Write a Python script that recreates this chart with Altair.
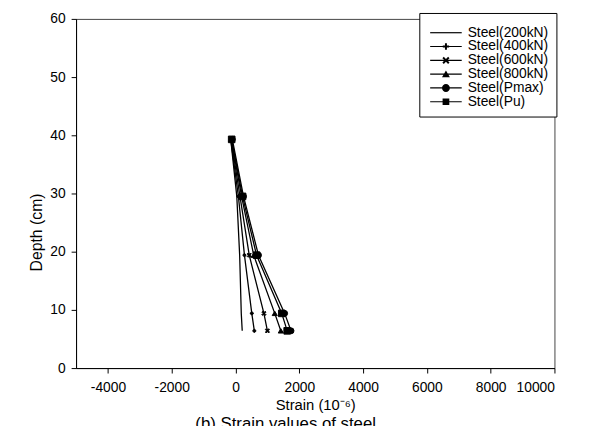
import altair as alt
import pandas as pd

# ---- data ----
series = ["Steel(200kN)", "Steel(400kN)", "Steel(600kN)", "Steel(800kN)", "Steel(Pmax)", "Steel(Pu)"]
depths = [39.3, 29.5, 19.4, 9.4, 6.4]
strain_200 = [-150, 40, 130, 180, 210]
strain_400 = [-150, 90, 280, 510, 590]
strain_600 = [-140, 140, 430, 890, 1000]
strain_800 = [-130, 190, 570, 1230, 1420]
strain_pmax = [-100, 250, 720, 1540, 1740]
strain_pu = [-120, 220, 660, 1450, 1620]

x_ticks = [-4000, -2000, 0, 2000, 4000, 6000, 8000, 10000]
y_ticks = [0, 10, 20, 30, 40, 50, 60]

all_strains = [strain_200, strain_400, strain_600, strain_800, strain_pmax, strain_pu]
rows = []
for s, vals in zip(series, all_strains):
    for d, v in zip(depths, vals):
        rows.append({"series": s, "depth": d, "strain": v})
df = pd.DataFrame(rows)

FONT = "Liberation Sans"

# marker shapes in the plot
xshape = "M-1,-0.6L-0.6,-1L0,-0.4L0.6,-1L1,-0.6L0.4,0L1,0.6L0.6,1L0,0.4L-0.6,1L-1,0.6L-0.4,0Z"
plot_shapes = ["circle", "cross", xshape, "triangle-up", "circle", "square"]
plot_sizes = [0, 45, 60, 60, 80, 60]

# legend symbols: thin bar (the line) + marker (units of 4px, bar from -1 to 7, marker at 3)
line = "M-1,-0.15L7,-0.15L7,0.15L-1,0.15Z"
leg_plus = line + "M2.75,-0.8L3.25,-0.8L3.25,-0.25L3.8,-0.25L3.8,0.25L3.25,0.25L3.25,0.8L2.75,0.8L2.75,0.25L2.2,0.25L2.2,-0.25L2.75,-0.25Z"
leg_x = line + "M2.1,-0.55L2.45,-0.9L3,-0.35L3.55,-0.9L3.9,-0.55L3.35,0L3.9,0.55L3.55,0.9L3,0.35L2.45,0.9L2.1,0.55L2.65,0Z"
leg_tri = line + "M3,-0.95L4,0.8L2,0.8Z"
leg_circ = line + "M4,0A1,1,0,1,1,2,0A1,1,0,1,1,4,0Z"
leg_sq = line + "M2.15,-0.85L3.85,-0.85L3.85,0.85L2.15,0.85Z"
legend_shapes = [line, leg_plus, leg_x, leg_tri, leg_circ, leg_sq]

xscale = alt.Scale(domain=[-5000, 10000], nice=False, zero=False)
yscale = alt.Scale(domain=[0, 60], nice=False)

axis_common = dict(grid=False, titleFontWeight="normal", tickSize=5,
                   domainColor="black", tickColor="black", labelColor="black",
                   titleColor="black", labelFont=FONT, titleFont=FONT)

xenc = alt.X("strain:Q", scale=xscale,
             axis=alt.Axis(values=x_ticks, title="Strain (10⁻⁶)", format="d",
                           labelExpr="replace(datum.label, '\u2212', '-')",
                           labelFontSize=14, titleFontSize=15, labelPadding=8,
                           titlePadding=3, **axis_common))
yenc = alt.Y("depth:Q", scale=yscale,
             axis=alt.Axis(values=y_ticks, title="Depth (cm)",
                           labelFontSize=14, titleFontSize=16, labelPadding=6,
                           titlePadding=5, titleY=216, **axis_common))

lines = alt.Chart(df).mark_line(color="black", strokeWidth=1.3).encode(
    x=xenc, y=yenc, detail="series:N", order=alt.Order("depth:Q"))

points = alt.Chart(df).mark_point(filled=True, fill="black", stroke="black",
                                  strokeWidth=1, opacity=1).encode(
    x=xenc, y=yenc,
    shape=alt.Shape("series:N", scale=alt.Scale(domain=series, range=plot_shapes), legend=None),
    size=alt.Size("series:N", scale=alt.Scale(domain=series, range=plot_sizes), legend=None),
)

legend_layer = alt.Chart(df).transform_filter("false").mark_point(
    filled=True, fill="black", stroke="black", strokeWidth=1, opacity=1).encode(
    x=xenc, y=yenc,
    shape=alt.Shape("series:N", scale=alt.Scale(domain=series, range=legend_shapes),
                    legend=alt.Legend(title=" ", titleFontSize=1, titlePadding=4,
                                      orient="none", legendX=348, legendY=-6,
                                      symbolSize=64, symbolFillColor="black",
                                      symbolStrokeColor="black", symbolStrokeWidth=0.6,
                                      labelFontSize=14, labelFont=FONT, labelColor="black",
                                      labelOffset=27, rowPadding=0, padding=8,
                                      strokeColor="black", fillColor="white",
                                      labelLimit=200)),
)

chart = alt.layer(lines, points, legend_layer).resolve_scale(
    shape="independent", size="independent"
).properties(
    width=485, height=354,
    padding={"left": 69, "top": 8, "right": 33, "bottom": 80},
    autosize=alt.AutoSizeParams(type="none"),
    title=alt.TitleParams("(b) Strain values of steel", orient="bottom", fontSize=17,
                          fontWeight="normal", font=FONT, color="black", offset=4, dx=-30),
).configure_view(stroke="#444", strokeWidth=1)

chart.save("out.html", embed_options={"renderer": "svg", "actions": False})
